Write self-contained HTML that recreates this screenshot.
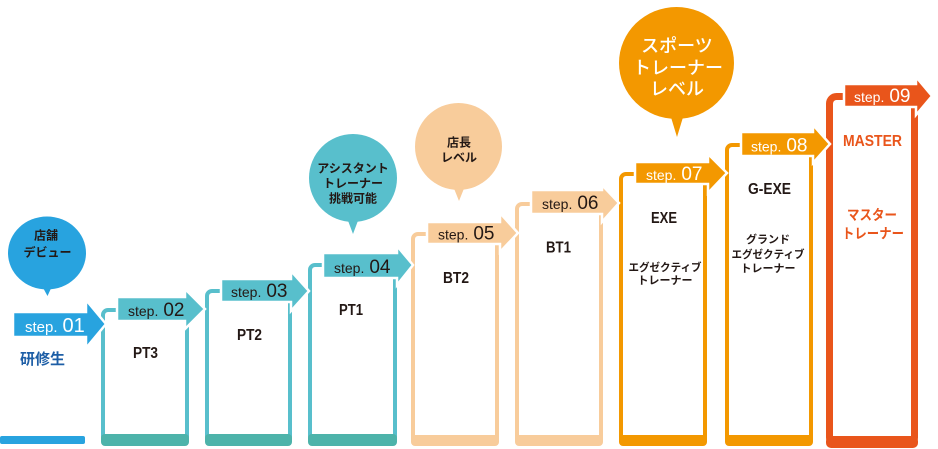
<!DOCTYPE html>
<html><head><meta charset="utf-8"><style>
html,body{margin:0;padding:0;background:#fff;}
svg{display:block;}
.jp{font-family:"Liberation Sans","Noto Sans CJK JP",sans-serif;}
.st{font-family:"Liberation Sans",sans-serif;}
</style></head><body>
<svg width="938" height="449" viewBox="0 0 938 449" xmlns="http://www.w3.org/2000/svg">
<!-- 研修生 bar -->
<rect x="0" y="436" width="85" height="8" rx="2" fill="#28a3df"/>

<!-- boxes -->
<g stroke-width="4" fill="#fff">
<rect x="103" y="310" width="84" height="134" rx="5" stroke="#58bfcc"/>
<rect x="207" y="291" width="83" height="153" rx="5" stroke="#58bfcc"/>
<rect x="310" y="265" width="85" height="179" rx="5" stroke="#58bfcc"/>
<rect x="413" y="234" width="84" height="210" rx="5" stroke="#f8cc9b"/>
<rect x="517" y="204" width="84" height="240" rx="5" stroke="#f8cc9b"/>
<rect x="621" y="174" width="84" height="270" rx="5" stroke="#f39800"/>
<rect x="727" y="145" width="84" height="299" rx="5" stroke="#f39800"/>
</g>
<rect x="829.5" y="96.5" width="85" height="348" rx="7" fill="#fff" stroke="#e9551b" stroke-width="7"/>
<!-- bottom bands -->
<rect x="101" y="434" width="88" height="12" rx="4" fill="#4db3aa"/>
<rect x="205" y="434" width="87" height="12" rx="4" fill="#4db3aa"/>
<rect x="308" y="434" width="89" height="12" rx="4" fill="#4db3aa"/>
<rect x="411" y="435" width="88" height="11" rx="4" fill="#f8cc9b"/>
<rect x="515" y="435" width="88" height="11" rx="4" fill="#f8cc9b"/>
<rect x="619" y="435" width="88" height="11" rx="4" fill="#f39800"/>
<rect x="725" y="435" width="88" height="11" rx="4" fill="#f39800"/>
<rect x="826" y="436" width="92" height="12" rx="5" fill="#e9551b"/>

<!-- arrows -->
<g stroke="#fff" stroke-width="2.5" stroke-linejoin="miter">
<polygon fill="#28a3df" points="13,312 86,312 86,300 106,324 86,348 86,337 13,337"/>
<polygon fill="#58bfcc" points="117,297 185,297 185,289 205,309 185,329 185,321 117,321"/>
<polygon fill="#58bfcc" points="221,279 291,279 291,271 309,291 291,311 291,302 221,302"/>
<polygon fill="#58bfcc" points="323,253 397,253 397,246 413,265 397,285 397,278 323,278"/>
<polygon fill="#f8cc9b" points="427,222 500,222 500,213 518,233 500,252 500,244 427,244"/>
<polygon fill="#f8cc9b" points="531,190 602,190 602,185 619,203 602,222 602,214 531,214"/>
<polygon fill="#f39800" points="635,162 708,162 708,154 727,173 708,193 708,184 635,184"/>
<polygon fill="#f39800" points="741,132 813,132 813,125 830,144 813,163 813,156 741,156"/>
<polygon fill="#e9551b" points="844,84 916,84 916,77 932,96 916,115 916,107 844,107"/>
</g>

<!-- step labels -->
<g class="st">
<text x="25" y="332" fill="#fff"><tspan font-size="15">step.</tspan><tspan font-size="20" dx="5">01</tspan></text>
<text x="128" y="316" fill="#231815"><tspan font-size="14">step.</tspan><tspan font-size="19" dx="5">02</tspan></text>
<text x="231" y="297" fill="#231815"><tspan font-size="14">step.</tspan><tspan font-size="19" dx="5">03</tspan></text>
<text x="334" y="273" fill="#231815"><tspan font-size="14">step.</tspan><tspan font-size="19" dx="5">04</tspan></text>
<text x="438" y="239.5" fill="#231815"><tspan font-size="14">step.</tspan><tspan font-size="19" dx="5">05</tspan></text>
<text x="542" y="209" fill="#231815"><tspan font-size="14">step.</tspan><tspan font-size="19" dx="5">06</tspan></text>
<text x="646" y="180" fill="#fff"><tspan font-size="14">step.</tspan><tspan font-size="19" dx="5">07</tspan></text>
<text x="751" y="151.5" fill="#fff"><tspan font-size="14">step.</tspan><tspan font-size="19" dx="5">08</tspan></text>
<text x="854" y="102" fill="#fff"><tspan font-size="14">step.</tspan><tspan font-size="19" dx="5">09</tspan></text>
</g>

<!-- box labels -->
<g class="st" font-weight="bold" font-size="16" fill="#231815">
<text x="133" y="358" textLength="25" lengthAdjust="spacingAndGlyphs">PT3</text>
<text x="237" y="340" textLength="25" lengthAdjust="spacingAndGlyphs">PT2</text>
<text x="339" y="315" textLength="24" lengthAdjust="spacingAndGlyphs">PT1</text>
<text x="443" y="283" textLength="26" lengthAdjust="spacingAndGlyphs">BT2</text>
<text x="546" y="252.5" textLength="25" lengthAdjust="spacingAndGlyphs">BT1</text>
<text x="651" y="223" textLength="26" lengthAdjust="spacingAndGlyphs">EXE</text>
<text x="748" y="194" textLength="43" lengthAdjust="spacingAndGlyphs">G-EXE</text>
<text x="843" y="146" textLength="59" lengthAdjust="spacingAndGlyphs" fill="#e9551b">MASTER</text>
</g>

<g class="jp" font-weight="bold" fill="#231815" text-anchor="middle">
<text x="665" y="271" font-size="11" textLength="73" lengthAdjust="spacingAndGlyphs">エグゼクティブ</text>
<text x="665" y="284" font-size="11">トレーナー</text>
<text x="768" y="243" font-size="11">グランド</text>
<text x="768" y="258" font-size="11" textLength="73" lengthAdjust="spacingAndGlyphs">エグゼクティブ</text>
<text x="768" y="272" font-size="11">トレーナー</text>
<text x="872" y="220" font-size="14" fill="#e9551b" textLength="50" lengthAdjust="spacingAndGlyphs">マスター</text>
<text x="873" y="238.5" font-size="14" fill="#e9551b" textLength="62" lengthAdjust="spacingAndGlyphs">トレーナー</text>
</g>
<text x="20" y="364" class="jp" font-weight="bold" font-size="15" fill="#1d5ea6">研修生</text>

<!-- bubbles -->
<ellipse cx="47" cy="253" rx="39" ry="36.5" fill="#28a3df"/>
<polygon points="41,284 53,284 47.5,296" fill="#28a3df"/>
<circle cx="353" cy="178" r="44" fill="#58bfcc"/>
<polygon points="347,218 359,218 353,234" fill="#58bfcc"/>
<circle cx="458.5" cy="146.5" r="43.5" fill="#f8cc9b"/>
<polygon points="453,186 465,186 459,201" fill="#f8cc9b"/>
<ellipse cx="676.5" cy="63" rx="57.5" ry="56" fill="#f39800"/>
<polygon points="670,114 684,114 677,137" fill="#f39800"/>

<g class="jp" font-weight="bold" font-size="12" fill="#231815" text-anchor="middle">
<text x="46" y="239.6">店舗</text>
<text x="47.5" y="256.3">デビュー</text>
<text x="353" y="172.6">アシスタント</text>
<text x="353" y="187.6">トレーナー</text>
<text x="353" y="202.6">挑戦可能</text>
<text x="459" y="146.6">店長</text>
<text x="459" y="161.6">レベル</text>
</g>
<g class="jp" font-weight="500" font-size="18" fill="#fff" text-anchor="middle">
<text x="677" y="51.8">スポーツ</text>
<text x="678" y="73.8">トレーナー</text>
<text x="677" y="94.8">レベル</text>
</g>
</svg>
</body></html>
